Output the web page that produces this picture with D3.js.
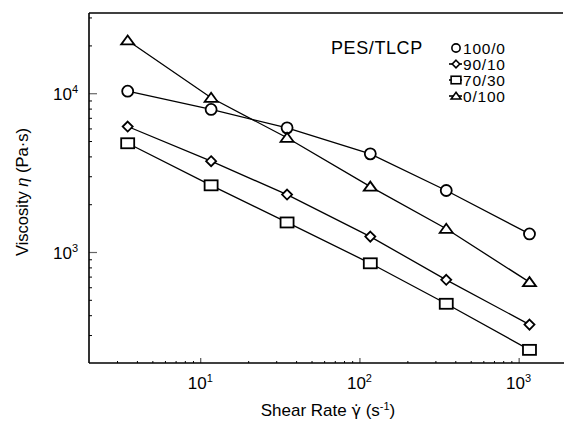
<!DOCTYPE html>
<html><head><meta charset="utf-8">
<script src="https://cdn.jsdelivr.net/npm/d3@7"></script>
<style>body{margin:0;background:#fff}svg{display:block}text{font-family:"Liberation Sans",Arial,sans-serif;fill:#000}</style>
</head><body><svg id="c" width="564" height="424"></svg>
<script>
const shearRates = [3.5, 11.7, 35.1, 117, 351, 1170];
const seriesNames = ["100/0", "90/10", "70/30", "0/100"];
const visc_100_0 = [10300, 7900, 6050, 4150, 2440, 1300];
const visc_90_10 = [6170, 3730, 2300, 1250, 668, 349];
const visc_70_30 = [4840, 2630, 1535, 849, 472, 242];
const visc_0_100 = [21500, 9360, 5240, 2580, 1400, 646];
const xMajorTicks = [10, 100, 1000];
const yMajorTicks = [1000, 10000];
const legendTitle = "PES/TLCP";

const series = [
  {name: seriesNames[0], values: visc_100_0, shape: "circle"},
  {name: seriesNames[1], values: visc_90_10, shape: "diamond"},
  {name: seriesNames[2], values: visc_70_30, shape: "square"},
  {name: seriesNames[3], values: visc_0_100, shape: "triangle"}
];

const svg = d3.select("#c");
const x = d3.scaleLog().domain([2, 1900]).range([89, 563]);
const y = d3.scaleLog().domain([200, 32000]).range([363, 13]);

const minorX = [], minorY = [];
[1, 10, 100, 1000].forEach(d => { for (let k = 2; k <= 9; k++) { const v = d * k; if (v > 2 && v < 1900) minorX.push(v); } });
[100, 1000, 10000].forEach(d => { for (let k = 2; k <= 9; k++) { const v = d * k; if (v > 200 && v < 32000) minorY.push(v); } });

// ticks
svg.append("g").attr("transform", "translate(89,0)")
  .call(d3.axisLeft(y).tickValues(yMajorTicks).tickSize(-8).tickFormat(""))
  .call(g => { g.select(".domain").remove(); g.selectAll("line").attr("stroke", "#666").attr("stroke-width", 1.2); });
svg.append("g").attr("transform", "translate(89,0)")
  .call(d3.axisLeft(y).tickValues(minorY).tickSize(-3).tickFormat(""))
  .call(g => { g.select(".domain").remove(); g.selectAll("line").attr("stroke", "#000").attr("stroke-width", 1); });
svg.append("g").attr("transform", "translate(0,363)")
  .call(d3.axisBottom(x).tickValues(xMajorTicks).tickSize(-5).tickFormat(""))
  .call(g => { g.select(".domain").remove(); g.selectAll("line").attr("stroke", "#333").attr("stroke-width", 1); });
svg.append("g").attr("transform", "translate(0,363)")
  .call(d3.axisBottom(x).tickValues(minorX).tickSize(-2).tickFormat(""))
  .call(g => { g.select(".domain").remove(); g.selectAll("line").attr("stroke", "#000").attr("stroke-width", 1); });

// frame (open on the right)
const frame = svg.append("g").attr("stroke", "#000").attr("stroke-width", 1.6).attr("fill", "none");
frame.append("line").attr("x1", x(2)).attr("x2", x(2)).attr("y1", y(32000)).attr("y2", y(200));
frame.append("line").attr("x1", x(2)).attr("x2", x(1900)).attr("y1", y(32000)).attr("y2", y(32000));
frame.append("line").attr("x1", x(2)).attr("x2", 564).attr("y1", y(200)).attr("y2", y(200));

// tick labels
xMajorTicks.forEach(v => {
  const t = svg.append("text").attr("x", x(v)).attr("y", 389).attr("text-anchor", "middle").attr("font-size", 17);
  t.append("tspan").text("10");
  t.append("tspan").attr("dy", -7).attr("font-size", 11).text(Math.round(Math.log10(v)));
});
yMajorTicks.forEach(v => {
  const t = svg.append("text").attr("x", 78).attr("y", y(v) + 7).attr("text-anchor", "end").attr("font-size", 17);
  t.append("tspan").text("10");
  t.append("tspan").attr("dy", -7).attr("font-size", 11).text(Math.round(Math.log10(v)));
});

// axis titles
const xt = svg.append("text").attr("x", 328).attr("y", 416).attr("text-anchor", "middle").attr("font-size", 17);
xt.append("tspan").text("Shear Rate ");
xt.append("tspan").attr("font-family", "DejaVu Sans").attr("font-size", 16).text("γ\u0307");
xt.append("tspan").text(" (s");
xt.append("tspan").attr("dy", -6).attr("font-size", 11).text("-1");
xt.append("tspan").attr("dy", 6).text(")");

const yt = svg.append("text").attr("transform", "translate(28,192) rotate(-90)").attr("text-anchor", "middle")
  .attr("font-size", 16.5);
yt.append("tspan").text("Viscosity ");
yt.append("tspan").attr("font-style", "italic").text("η");
yt.append("tspan").text(" (Pa·s)");

// symbols
function drawSymbol(g, shape, cx, cy, s) {
  if (shape === "circle") g.append("circle").attr("cx", cx).attr("cy", cy).attr("r", 5.5 * s);
  else if (shape === "diamond") g.append("path").attr("d", `M${cx},${cy - 5 * s}L${cx + 5 * s},${cy}L${cx},${cy + 5 * s}L${cx - 5 * s},${cy}Z`);
  else if (shape === "square") g.append("rect").attr("x", cx - 6.5 * s).attr("y", cy - 5 * s).attr("width", 13 * s).attr("height", 10 * s);
  else if (shape === "triangle") g.append("path").attr("d", `M${cx},${cy - 5 * s}L${cx + 6.5 * s},${cy + 4 * s}L${cx - 6.5 * s},${cy + 4 * s}Z`);
}

const line = d3.line().x((d, i) => x(shearRates[i])).y(d => y(d));
series.forEach(s => {
  svg.append("path").attr("d", line(s.values)).attr("fill", "none").attr("stroke", "#000").attr("stroke-width", 1.3);
  const g = svg.append("g").attr("fill", "#fff").attr("stroke", "#000").attr("stroke-width", 1.8);
  s.values.forEach((v, i) => drawSymbol(g, s.shape, x(shearRates[i]), y(v), 1));
});

// legend
svg.append("text").attr("x", 331).attr("y", 54).attr("font-size", 18).attr("letter-spacing", 0.6).text(legendTitle);
const legRows = [48, 64, 80, 96];
series.forEach((s, i) => {
  const cy = legRows[i];
  const g = svg.append("g").attr("fill", "#fff").attr("stroke", "#000").attr("stroke-width", 1.6);
  if (s.shape !== "circle") g.append("line").attr("x1", 449).attr("x2", 462).attr("y1", cy).attr("y2", cy);
  drawSymbol(g, s.shape, 456, cy, 0.75);
  svg.append("text").attr("x", 463).attr("y", cy + 5.5).attr("font-size", 15.5).attr("letter-spacing", 0.8).text(s.name);
});
</script></body></html>
